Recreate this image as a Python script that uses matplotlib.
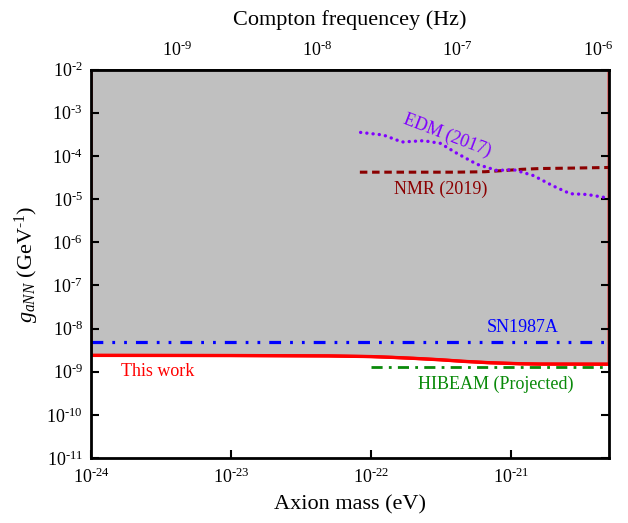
import numpy as np
import matplotlib
matplotlib.use("Agg")
import matplotlib.pyplot as plt
from matplotlib.ticker import NullLocator, FuncFormatter

plt.rcParams['font.family'] = ['Liberation Serif', 'DejaVu Serif']
plt.rcParams['mathtext.fontset'] = 'custom'
plt.rcParams['mathtext.rm'] = 'Liberation Serif'
plt.rcParams['mathtext.it'] = 'Liberation Serif:italic'
plt.rcParams['axes.unicode_minus'] = False
plt.rcParams['lines.scale_dashes'] = False

# ---------------- data ----------------
H_EV_S = 4.135667e-15
xlim = (1e-24, 5e-21)
ylim = (1e-11, 1e-2)

this_work_m = [1e-24, 1e-23, 5e-23, 1e-22, 1.4e-22, 2e-22, 3.1e-22, 4.5e-22, 7e-22, 1.2e-21, 1.6e-21, 5e-21]
this_work_g = [2.4e-9, 2.38e-9, 2.33e-9, 2.25e-9, 2.16e-9, 2.05e-9, 1.9e-9, 1.75e-9, 1.62e-9, 1.53e-9, 1.51e-9, 1.5e-9]

sn_m = [1e-24, 5e-21]
sn_g = [4.9e-9, 4.9e-9]

hibeam_m = [1e-22, 5e-21]
hibeam_g = [1.32e-9, 1.32e-9]

nmr_m = [8.3e-23, 2e-22, 4e-22, 6.5e-22, 9e-22, 1.2e-21, 1.6e-21, 2.5e-21, 5e-21]
nmr_g = [4.2e-5, 4.2e-5, 4.2e-5, 4.3e-5, 4.6e-5, 4.9e-5, 5.1e-5, 5.2e-5, 5.4e-5]

edm_m = [8.4e-23, 1.22e-22, 1.66e-22, 2.37e-22, 3.11e-22, 4.09e-22, 5.69e-22, 7.9e-22,
         1.04e-21, 1.44e-21, 2.0e-21, 2.64e-21, 3.47e-21, 4.83e-21]
edm_g = [3.5e-4, 3.05e-4, 2.1e-4, 2.25e-4, 1.96e-4, 1.15e-4, 6.4e-5, 4.6e-5,
         4.8e-5, 3.5e-5, 2.0e-5, 1.33e-5, 1.28e-5, 1.07e-5]

x_ticks = [1e-24, 1e-23, 1e-22, 1e-21]
y_ticks = [10.0 ** e for e in range(-11, -1)]
top_ticks = [1e-9, 1e-8, 1e-7, 1e-6]


def pow10_label(v, _pos):
    e = int(round(np.log10(v)))
    if e < 0:
        return r'$\mathdefault{10^{\text{-}%d}}$' % (-e)
    return r'$\mathdefault{10^{%d}}$' % e


fmt = FuncFormatter(pow10_label)

# ---------------- figure ----------------
fig = plt.figure(figsize=(6.28, 5.23), dpi=100)
ax = fig.add_axes([0.145, 0.124, 0.825, 0.743])
ax.set_xscale('log')
ax.set_yscale('log')
ax.set_xlim(*xlim)
ax.set_ylim(*ylim)

# excluded region
poly_x = list(this_work_m) + [this_work_m[-1], this_work_m[0]]
poly_y = list(this_work_g) + [ylim[1], ylim[1]]
ax.fill(poly_x, poly_y, facecolor='#c0c0c0', edgecolor='red', lw=2.2, zorder=1)
ax.plot(this_work_m, this_work_g, color='red', lw=2.4, zorder=3)

ax.plot(sn_m, sn_g, color='#0000ff', lw=2.3,
        linestyle=(0, (8.5, 6.5, 2.0, 6.5, 2.0, 6.5)), zorder=4)
ax.plot(hibeam_m, hibeam_g, color='#0a8a0a', lw=2.0,
        linestyle=(0, (8.0, 4.5, 2.0, 4.5)), zorder=4)
ax.plot(nmr_m, nmr_g, color='#8b0000', lw=2.2,
        linestyle=(0, (5.4, 3.4)), zorder=4)
ax.plot(edm_m, edm_g, color='#8000ff', lw=2.4,
        linestyle=(0, (0.1, 4.4)), dash_capstyle='round', zorder=4)

# labels
fs = 13
ax.text(3.5e-22, 3.05e-4, 'EDM (2017)', color='#8000ff', fontsize=fs,
        rotation=-21, ha='center', va='center')
ax.text(3.16e-22, 1.7e-5, 'NMR (2019)', color='#8b0000', fontsize=fs,
        ha='center', va='center')
ax.text(1.2e-21, 1.05e-8, 'SN1987A', color='#0000ff', fontsize=fs,
        ha='center', va='center')
ax.text(3.0e-24, 1.0e-9, 'This work', color='red', fontsize=fs,
        ha='center', va='center')
ax.text(7.8e-22, 5.0e-10, 'HIBEAM (Projected)', color='#0a8a0a', fontsize=fs,
        ha='center', va='center')

# axes styling
ax.set_xticks(x_ticks)
ax.set_yticks(y_ticks)
ax.xaxis.set_minor_locator(NullLocator())
ax.yaxis.set_minor_locator(NullLocator())
ax.xaxis.set_major_formatter(fmt)
ax.yaxis.set_major_formatter(fmt)
ax.tick_params(axis='both', which='major', direction='in', length=6, width=1.5,
               labelsize=13, right=True, top=False)
ax.tick_params(axis='x', pad=7)
ax.tick_params(axis='y', pad=6)
for sp in ax.spines.values():
    sp.set_linewidth(2.0)
    sp.set_zorder(5)

ax.set_xlabel('Axion mass (eV)', fontsize=16, labelpad=6)
ax.set_ylabel(r'$g_{aNN}$ (GeV$^{\text{-}1}$)', fontsize=16, labelpad=4)

sec = ax.secondary_xaxis('top', functions=(lambda m: m / H_EV_S, lambda f: f * H_EV_S))
sec.set_xticks(top_ticks)
sec.xaxis.set_minor_locator(NullLocator())
sec.xaxis.set_major_formatter(fmt)
sec.tick_params(axis='x', direction='in', length=6, width=1.5, labelsize=13, pad=7)
sec.spines['top'].set_linewidth(2.0)
sec.set_xlabel('Compton frequencey (Hz)', fontsize=16, labelpad=11)

fig.savefig('out.png', dpi=100)
